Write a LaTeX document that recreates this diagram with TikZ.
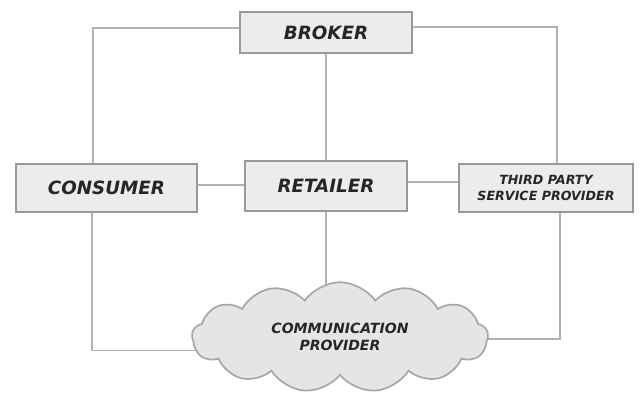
\documentclass[tikz,border=0pt]{standalone}
\usepackage{fontspec}
\setmainfont{DejaVu Sans}
\usetikzlibrary{shapes.symbols,backgrounds}

\begin{document}
\begin{tikzpicture}[
  party/.style={draw=gray!80, fill=gray!15, line width=1.2pt, text=black!85,
    font=\bfseries\itshape, inner sep=0pt},
  link/.style={draw=gray!60, line width=1.2pt}
]
\useasboundingbox (0,0) rectangle (16.1,-10.075);

% Boxes
\node[party, minimum width=4.3cm, minimum height=1.03cm, font=\fontsize{13}{15}\selectfont\bfseries\itshape] (broker) at (8.15,-0.81) {BROKER};
\node[party, minimum width=4.53cm, minimum height=1.2cm, font=\fontsize{13}{15}\selectfont\bfseries\itshape] (consumer) at (2.66,-4.7) {CONSUMER};
\node[party, minimum width=4.05cm, minimum height=1.25cm, font=\fontsize{13}{15}\selectfont\bfseries\itshape] (retailer) at (8.15,-4.65) {RETAILER};
\node[party, minimum width=4.35cm, minimum height=1.2cm, align=center, font=\fontsize{9}{11}\selectfont\bfseries\itshape] (thirdparty) at (13.65,-4.7) {THIRD PARTY\\SERVICE PROVIDER};

% Cloud
\node[cloud, cloud puffs=13, cloud puff arc=110, aspect=2.7, draw=gray!70, fill=gray!20,
  line width=1.2pt, minimum width=7.4cm, minimum height=2.75cm, inner sep=0pt, align=center,
  text=black!85, font=\fontsize{10}{12}\selectfont\bfseries\itshape] (provider) at (8.5,-8.43)
  {COMMUNICATION\\PROVIDER};

% Links, kept behind the boxes and the cloud
\begin{scope}[on background layer]
\draw[link] ([yshift=0.11cm]broker.west) -| ([xshift=-0.34cm]consumer.north);
\draw[link] ([yshift=0.14cm]broker.east) -| ([xshift=0.28cm]thirdparty.north);
\draw[link] (broker.south) -- (retailer.north);
\draw[link] ([yshift=0.07cm]consumer.east) -- ([yshift=0.07cm]consumer.east -| retailer.west);
\draw[link] ([yshift=0.1cm]retailer.east) -- ([yshift=0.1cm]retailer.east -| thirdparty.west);
\draw[link] ([xshift=-0.36cm]consumer.south) |- ([yshift=-0.33cm]provider.center);
\draw[link] (retailer.south) -- (retailer.south |- provider.center);
\draw[link] ([xshift=0.35cm]thirdparty.south) |- ([yshift=-0.05cm]provider.center);
\end{scope}

\end{tikzpicture}
\end{document}
